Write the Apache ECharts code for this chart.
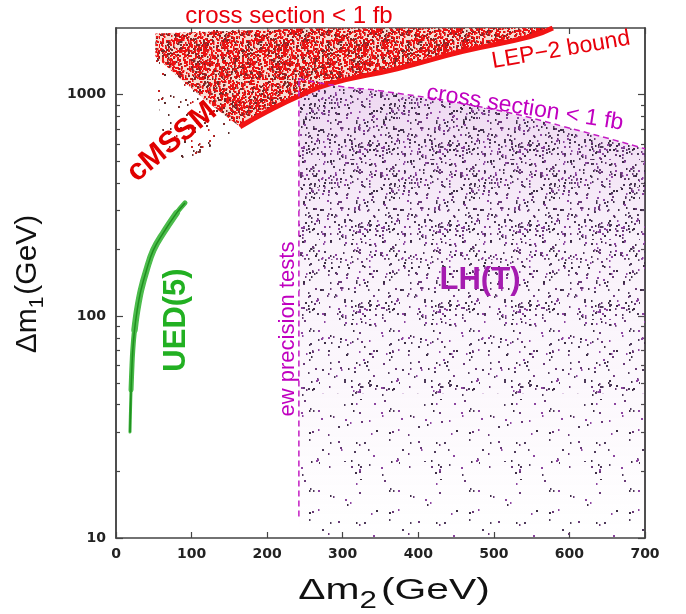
<!DOCTYPE html>
<html lang="en">
<head>
<meta charset="utf-8">
<title>Δm1 vs Δm2</title>
<style>
html, body { margin: 0; padding: 0; background: #fff; }
#chart { width: 686px; height: 614px; }
</style>
</head>
<body>
<div id="chart"></div>
<script src="https://cdn.jsdelivr.net/npm/echarts@6/dist/echarts.min.js"></script>
<script>
// tick values
var xTicks = [0, 100, 200, 300, 400, 500, 600, 700];
var yMajor = [10, 100, 1000];
var yMinor = [20, 30, 40, 50, 60, 70, 80, 90, 200, 300, 400, 500, 600, 700, 800, 900];

// cMSSM cloud outline (dm2, dm1)
var mssmX = [52, 120, 243, 400, 578, 548, 459, 372, 283, 243, 200, 164, 131, 98, 69, 61, 53];
var mssmY = [1890, 1960, 1990, 2000, 2000, 1830, 1570, 1310, 1120, 990, 840, 717, 600, 513, 453, 702, 1064];
// denser upper part of the cloud
var mssmDenseX = [52, 243, 578, 548, 459, 372, 283, 243, 200, 164, 124, 85, 52];
var mssmDenseY = [1890, 1990, 2000, 1830, 1570, 1310, 1120, 990, 840, 717, 910, 1180, 1490];
// LEP-2 bound (lower edge of the cloud)
var lepX = [164, 200, 243, 283, 372, 459, 548, 578];
var lepY = [717, 840, 990, 1120, 1310, 1570, 1830, 2000];

// UED(5) band
var uedX = [18.5, 19.2, 19.9, 20.9, 22.2, 24.5, 28.1, 33.1, 40.4, 49.4, 62.6, 80.3, 91.3];
var uedY = [30.1, 37.8, 46.6, 57.3, 70.5, 86.8, 107, 131.6, 162, 199, 238, 293, 325];

// LH(T): ew precision edge and cross section < 1 fb edge
var ewX = [242, 242];
var ewY = [12.5, 1180];
var lhTopX = [242, 300, 349, 495, 614, 700];
var lhTopY = [1180, 1087, 1043, 864, 687, 570];
// lower edges of the density bands of the LH(T) cloud, bottom to top
var lhBandY = [10, 22, 45, 90, 180, 380];

var chart = echarts.init(document.getElementById('chart'));

// integer hash, used only to scatter the speckles of the fill textures
function hash(i, k) {
	var h = Math.imul(i * 4 + k + 1, 0x9E3779B1);
	h ^= h >>> 15;
	h = Math.imul(h, 0x85EBCA77);
	h ^= h >>> 13;
	h = Math.imul(h, 0xC2B2AE3D);
	h ^= h >>> 16;
	return (h >>> 0) / 4294967296;
}

// speckle texture; the first dots are the same for every count so bands line up
function dotTexture(size, count, colors, bg) {
	var c = document.createElement('canvas');
	c.width = size; c.height = size;
	var g = c.getContext('2d');
	if (bg) { g.fillStyle = bg; g.fillRect(0, 0, size, size); }
	for (var i = 0; i < count; i++) {
		g.fillStyle = colors[i % colors.length];
		var w = hash(i, 3) > 0.5 ? 2 : 1.5;
		g.fillRect(Math.floor(hash(i, 1) * size), Math.floor(hash(i, 2) * size), w, 2);
	}
	return { image: c, repeat: 'repeat' };
}

function pairs(xs, ys) {
	return xs.map(function (x, i) { return [x, ys[i]]; });
}

function areaSeries(xs, ys, fill, z) {
	return {
		type: 'custom', silent: true, clip: true, z: z,
		data: pairs(xs, ys),
		renderItem: function (params, api) {
			if (params.dataIndex !== 0) return;
			var pts = xs.map(function (x, i) { return api.coord([x, ys[i]]); });
			return { type: 'polygon', shape: { points: pts }, style: { fill: fill } };
		}
	};
}

function lineSeries(xs, ys, lineStyle, smooth, z) {
	return {
		type: 'line', silent: true, z: z, showSymbol: false, smooth: smooth,
		data: pairs(xs, ys), lineStyle: lineStyle
	};
}

var series = [];

// cMSSM
series.push(areaSeries(mssmX, mssmY, dotTexture(80, 110, ['#7a3030', '#c82020', '#5a2a2a']), 2));
series.push(areaSeries(mssmDenseX, mssmDenseY, dotTexture(80, 1800, ['#ee1212', '#e81414', '#ee1212', '#7a2828'], '#f6dcd2'), 3));
series.push(lineSeries(lepX, lepY, { color: '#f21414', width: 5 }, true, 4));

// LH(T) bands
var dots = [40, 70, 125, 195, 270, 350];
var lhPurple = ['#4e3a5a', '#8c44a0', '#3c2c44', '#6a3a78'];
for (var b = 0; b < lhBandY.length; b++) {
	var bx, by;
	if (b === lhBandY.length - 1) {
		bx = [242].concat(lhTopX, [700]);
		by = [lhBandY[b]].concat(lhTopY, [lhBandY[b]]);
	} else {
		bx = [242, 242, 700, 700];
		by = [lhBandY[b], lhBandY[b + 1], lhBandY[b + 1], lhBandY[b]];
	}
	series.push(areaSeries(bx, by, dotTexture(80, dots[b], lhPurple), 2));
}
series.push(areaSeries([242].concat(lhTopX, [700]), [10].concat(lhTopY, [10]),
	new echarts.graphic.LinearGradient(0, 0, 0, 1, [
		{ offset: 0, color: 'rgba(205,140,215,0.35)' },
		{ offset: 0.35, color: 'rgba(205,140,215,0.12)' },
		{ offset: 1, color: 'rgba(205,140,215,0)' }
	]), 1));
series.push(lineSeries(ewX, ewY, { color: '#c41cc4', width: 1.5, type: [6, 4] }, false, 5));
series.push(lineSeries(lhTopX, lhTopY, { color: '#c41cc4', width: 1.5, type: [6, 4] }, true, 5));

// UED(5)
series.push(lineSeries(uedX, uedY, { color: '#3fb43f', width: 3, cap: 'round' }, 0.4, 4));
series.push(lineSeries(uedX.slice(2), uedY.slice(2), { color: '#45b845', width: 5, cap: 'round' }, 0.4, 4));
series.push(lineSeries(uedX.slice(5, 12), uedY.slice(5, 12), { color: '#4cbc4c', width: 6.5, cap: 'round' }, 0.4, 4));
series.push(lineSeries(uedX, uedY, { color: '#1f8f1f', width: 1.5 }, 0.4, 5));

var tickFont = { fontFamily: 'DejaVu Sans', fontWeight: 'bold', fontSize: 14, color: '#222' };
var axisLine = { show: true, lineStyle: { color: '#444', width: 1.5 } };

function yAxis(pos, ticks, len, labels) {
	return {
		type: 'log', min: 10, max: 2000, position: pos,
		axisLine: axisLine, splitLine: { show: false },
		axisTick: { inside: true, length: len, customValues: ticks, lineStyle: { color: '#444', width: 1.2 } },
		axisLabel: labels ? Object.assign({
			customValues: yMajor, margin: 10,
			formatter: function (v) { return String(v); }
		}, tickFont) : { show: false }
	};
}

function xAxis(pos, labels) {
	return {
		type: 'value', min: 0, max: 700, interval: 100, position: pos,
		axisLine: axisLine, splitLine: { show: false },
		axisTick: { inside: true, length: 6, customValues: xTicks, lineStyle: { color: '#444', width: 1.2 } },
		axisLabel: labels ? Object.assign({ margin: 9 }, tickFont) : { show: false }
	};
}

var labelFont = 'Liberation Sans';
function note(text, x, y, size, color, rot, weight) {
	return {
		type: 'text', x: x, y: y, rotation: rot || 0, z: 100,
		style: {
			text: text, fill: color, fontSize: size, fontFamily: labelFont,
			fontWeight: weight || 'normal', align: 'center', verticalAlign: 'middle'
		}
	};
}

var option = {
	animation: false,
	grid: { left: 116, right: 41, top: 28, bottom: 76 },
	xAxis: [xAxis('bottom', true), xAxis('top', false)],
	yAxis: [yAxis('left', yMajor, 7, true), yAxis('left', yMinor, 4, false),
		yAxis('right', yMajor, 7, false), yAxis('right', yMinor, 4, false)],
	series: series,
	graphic: [
		note('cross section < 1 fb', 289, 16, 24, '#e8000b'),
		note('LEP\u22122 bound', 561, 50, 23, '#e8000b', 0.17),
		note('cross section < 1 fb', 525, 108, 23, '#c000c0', -0.155),
		note('cMSSM', 172, 142, 30, '#e00000', 0.70, 'bold'),
		note('UED(5)', 176, 320, 31, '#22b022', Math.PI / 2, 'bold'),
		note('ew precision tests', 288, 329, 22, '#c000c0', Math.PI / 2),
		note('LH(T)', 480, 280, 31, '#a51cb0', 0, 'bold'),
		{
			type: 'text', x: 29, y: 284, rotation: Math.PI / 2,
			style: {
				text: '{a|\u0394m}{s|1}{a|(GeV)}', align: 'center', verticalAlign: 'middle', fill: '#111',
				rich: {
					a: { fontSize: 30, fontFamily: labelFont, verticalAlign: 'top', lineHeight: 32 },
					s: { fontSize: 21, fontFamily: labelFont, verticalAlign: 'top', padding: [14, 2, 0, 0], lineHeight: 23 }
				}
			}
		},
		{
			type: 'text', x: 394, y: 592, scaleX: 1.36,
			style: {
				text: '{a|\u0394m}{s|2}{a|(GeV)}', align: 'center', verticalAlign: 'middle', fill: '#111',
				rich: {
					a: { fontSize: 30, fontFamily: labelFont, verticalAlign: 'top', lineHeight: 32 },
					s: { fontSize: 23, fontFamily: labelFont, verticalAlign: 'top', padding: [14, 3, 0, 0], lineHeight: 25 }
				}
			}
		}
	]
};
chart.setOption(option);
</script>
</body>
</html>
